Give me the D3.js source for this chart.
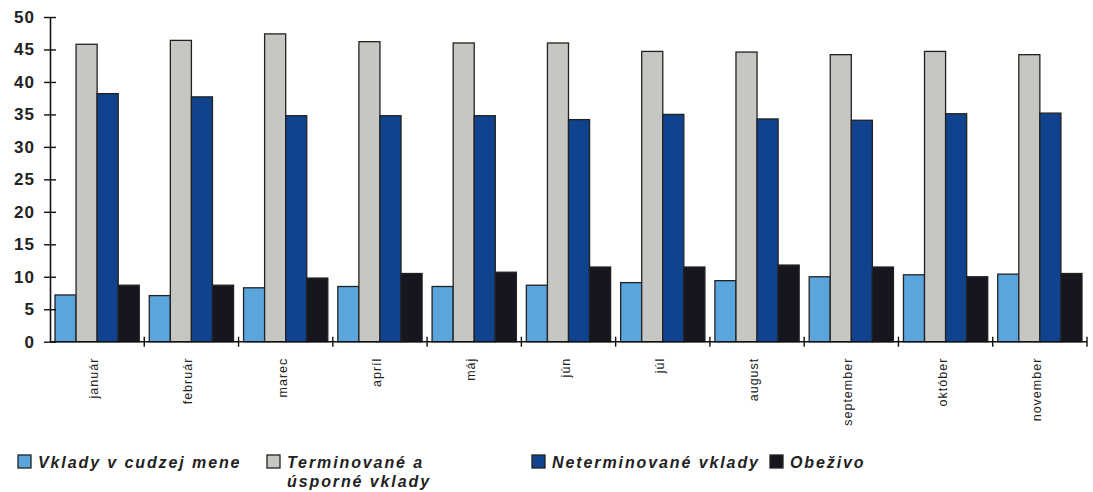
<!DOCTYPE html>
<html>
<head>
<meta charset="utf-8">
<script src="https://cdn.jsdelivr.net/npm/d3@7"></script>
<style>
body { margin: 0; background: #fff; }
svg { display: block; font-family: "Liberation Sans", Arial, sans-serif; }
</style>
</head>
<body>
<svg></svg>
<script>
// months
var months = ["január","február","marec","apríl","máj","jún","júl","august","september","október","november"];

// series (%)
var vkladyCudzej = [7.2, 7.1, 8.3, 8.5, 8.5, 8.7, 9.1, 9.4, 10.0, 10.3, 10.4];
var terminovane = [45.8, 46.4, 47.4, 46.2, 46.0, 46.0, 44.7, 44.6, 44.2, 44.7, 44.2];
var neterminovane = [38.2, 37.7, 34.8, 34.8, 34.8, 34.2, 35.0, 34.3, 34.1, 35.1, 35.2];
var obezivo = [8.7, 8.7, 9.8, 10.5, 10.7, 11.5, 11.5, 11.8, 11.5, 10.0, 10.5];

var seriesNames = ["Vklady v cudzej mene", "Terminované a úsporné vklady", "Neterminované vklady", "Obeživo"];
var seriesColors = ["#5aa5dc", "#c6c6c2", "#10428e", "#16161f"];
var yTicks = [0, 5, 10, 15, 20, 25, 30, 35, 40, 45, 50];

var screen = { width: 1093, height: 492 };
var svg = d3.select("svg")
  .attr("width", screen.width)
  .attr("height", screen.height);

var margins = { top: 17, left: 50, right: 6, bottom: 150 };
var axisBottom = 341.7;

var xScale = d3.scaleBand()
  .domain(months)
  .range([margins.left, 1087])
  .paddingInner(0)
  .paddingOuter(0);

var xInner = d3.scaleBand()
  .domain(d3.range(4))
  .range([5, xScale.bandwidth() - 5]);

var yScale = d3.scaleLinear()
  .domain([0, 50])
  .range([axisBottom, margins.top]);

var table = months.map(function(m, i) {
  return { month: m, values: [vkladyCudzej[i], terminovane[i], neterminovane[i], obezivo[i]] };
});

var groups = svg.append("g").selectAll("g")
  .data(table)
  .enter()
  .append("g")
  .attr("transform", function(d) { return "translate(" + xScale(d.month) + ",0)"; });

groups.selectAll("rect")
  .data(function(d) { return d.values; })
  .enter()
  .append("rect")
  .attr("x", function(d, i) { return xInner(i); })
  .attr("width", xInner.bandwidth())
  .attr("y", function(d) { return yScale(d); })
  .attr("height", function(d) { return axisBottom - yScale(d); })
  .attr("fill", function(d, i) { return seriesColors[i]; })
  .attr("stroke", "#222")
  .attr("stroke-width", 1.3);

// y axis
var yAxis = d3.axisLeft(yScale)
  .tickValues(yTicks)
  .tickSizeInner(6)
  .tickSizeOuter(0)
  .tickPadding(9);

var yg = svg.append("g")
  .attr("transform", "translate(" + margins.left + ",0)")
  .call(yAxis);
yg.select(".domain").attr("stroke", "#111").attr("stroke-width", 1.6);
yg.selectAll(".tick line").attr("x1", 6).attr("x2", -6).attr("stroke", "#111").attr("stroke-width", 1.4);
yg.selectAll(".tick text")
  .attr("font-size", 17)
  .attr("font-weight", "bold")
  .attr("letter-spacing", 1)
  .attr("fill", "#222");

// x axis with ticks at category boundaries
var boundaries = months.map(function(m) { return xScale(m); }).concat([xScale.range()[1]]);
var xg = svg.append("g");
xg.append("line")
  .attr("x1", margins.left).attr("x2", xScale.range()[1])
  .attr("y1", axisBottom).attr("y2", axisBottom)
  .attr("stroke", "#111").attr("stroke-width", 1.6);
xg.selectAll("line.tick")
  .data(boundaries.slice(1))
  .enter()
  .append("line")
  .attr("class", "tick")
  .attr("x1", function(d) { return d; }).attr("x2", function(d) { return d; })
  .attr("y1", axisBottom - 5).attr("y2", axisBottom + 5)
  .attr("stroke", "#111").attr("stroke-width", 1.4);

xg.selectAll("text")
  .data(months)
  .enter()
  .append("text")
  .attr("transform", function(d) {
    return "translate(" + (xScale(d) + xScale.bandwidth() / 2 + 1) + "," + (axisBottom + 16) + ") rotate(-90)";
  })
  .attr("text-anchor", "end")
  .attr("font-size", 12.5)
  .attr("letter-spacing", 1)
  .attr("fill", "#222")
  .text(function(d) { return d; });

// legend
var legendItems = [
  { x: 18, lines: ["Vklady v cudzej mene"] },
  { x: 267, lines: ["Terminované a", "úsporné vklady"] },
  { x: 532, lines: ["Neterminované vklady"] },
  { x: 770, lines: ["Obeživo"] }
];
var legend = svg.append("g");
var li = legend.selectAll("g")
  .data(legendItems)
  .enter()
  .append("g")
  .attr("transform", function(d) { return "translate(" + d.x + ",455)"; });
li.append("rect")
  .attr("width", 13).attr("height", 13)
  .attr("fill", function(d, i) { return seriesColors[i]; })
  .attr("stroke", "#222").attr("stroke-width", 1.3);
li.append("text")
  .attr("x", 20)
  .attr("y", 12.5)
  .attr("font-size", 16)
  .attr("font-weight", "bold")
  .attr("font-style", "italic")
  .attr("letter-spacing", 1.9)
  .attr("fill", "#222")
  .selectAll("tspan")
  .data(function(d) { return d.lines; })
  .enter()
  .append("tspan")
  .attr("x", 20)
  .attr("dy", function(d, i) { return i ? 19 : 0; })
  .text(function(d) { return d; });
</script>
</body>
</html>
